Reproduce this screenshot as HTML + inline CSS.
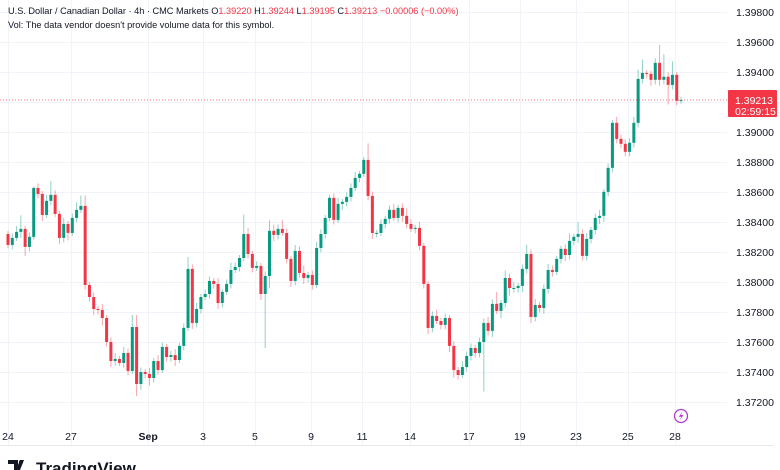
<!DOCTYPE html>
<html><head><meta charset="utf-8"><style>
html,body{margin:0;padding:0;background:#fff;width:780px;height:470px;overflow:hidden;font-family:"Liberation Sans",sans-serif}
svg text{font-family:"Liberation Sans",sans-serif}
</style></head><body>
<svg id="chart" width="780" height="470" viewBox="0 0 780 470" xmlns="http://www.w3.org/2000/svg">
<g id="grid"></g>
<g id="candles"></g>
<g id="yaxis"></g>
<g id="xaxis"></g>
<line x1="0" y1="445.5" x2="773" y2="445.5" stroke="#e6e8ee" stroke-width="1"/>
<text x="8" y="14" font-size="9.2" fill="#131722">U.S. Dollar / Canadian Dollar · 4h · CMC Markets  O<tspan fill="#f23645">1.39220</tspan>  H<tspan fill="#f23645">1.39244</tspan>  L<tspan fill="#f23645">1.39195</tspan>  C<tspan fill="#f23645">1.39213</tspan>  <tspan fill="#f23645">−0.00006 (−0.00%)</tspan></text>
<text x="8" y="28" font-size="9.2" fill="#131722">Vol: The data vendor doesn't provide volume data for this symbol.</text>
<g><circle cx="681" cy="416" r="6.5" fill="#fff" stroke="#b23bd6" stroke-width="1.3"/><path d="M682.5 411.5 L678.8 416.8 L681.3 416.8 L679.8 420.5 L683.4 415 L680.9 415 Z" fill="#b23bd6"/></g>
<g><path d="M8 460 h10 v10 h-4 v-6 h-6z M20 460 h4 l-4 10 h-4z" fill="#131722"/><circle cx="21" cy="462" r="2" fill="#131722"/><text x="36" y="474" font-size="17" font-weight="bold" fill="#131722">TradingView</text></g>
</svg>
<script>
const closes=[1.38247,1.38294,1.38334,1.38354,1.38234,1.38301,1.38627,1.38587,1.38447,1.38541,
1.38581,1.38454,1.38294,1.38387,1.38327,1.38427,1.38481,1.38507,1.37980,1.37900,
1.37820,1.37814,1.37760,1.37600,1.37473,1.37487,1.37460,1.37527,1.37407,1.37700,
1.37320,1.37400,1.37387,1.37360,1.37473,1.37413,1.37567,1.37500,1.37513,1.37480,
1.37574,1.37694,1.38087,1.37727,1.37820,1.37900,1.37920,1.38007,1.37987,1.37860,
1.37934,1.37987,1.38080,1.38100,1.38160,1.38320,1.38187,1.38094,1.38107,1.37920,
1.38040,1.38341,1.38314,1.38354,1.38327,1.38154,1.38007,1.38207,1.38060,1.38027,
1.38047,1.37980,1.38227,1.38320,1.38427,1.38561,1.38414,1.38521,1.38534,1.38567,
1.38627,1.38694,1.38721,1.38814,1.38574,1.38327,1.38327,1.38387,1.38421,1.38481,
1.38427,1.38494,1.38441,1.38387,1.38354,1.38361,1.38241,1.37987,1.37694,1.37774,
1.37740,1.37714,1.37760,1.37574,1.37413,1.37380,1.37433,1.37507,1.37560,1.37527,
1.37600,1.37727,1.37674,1.37854,1.37807,1.37860,1.38027,1.37960,1.37960,1.37974,
1.38087,1.38187,1.37767,1.37847,1.37827,1.37954,1.38080,1.38067,1.38154,1.38221,
1.38180,1.38274,1.38301,1.38320,1.38174,1.38287,1.38347,1.38427,1.38441,1.38601,
1.38761,1.39061,1.38954,1.38921,1.38868,1.38928,1.39061,1.39354,1.39394,1.39388,
1.39348,1.39461,1.39348,1.39368,1.39314,1.39381,1.39208,1.39213];
const firstOpen=1.38320;
const upperWickPips=[2,3,4,9,2,3,1,3,2,4,9,3,2,4,2,3,5,7,7,2,
3,2,4,2,3,4,2,4,3,8,8,3,2,4,2,4,3,2,3,4,
2,3,8,3,4,2,3,3,2,4,2,3,5,3,2,13,4,2,3,2,
3,7,4,3,6,3,2,4,3,5,2,3,4,3,2,2,3,4,2,3,
3,4,2,2,11,3,2,3,2,3,4,2,3,5,3,2,4,2,2,3,
4,2,3,2,3,2,4,3,3,2,3,3,4,3,8,2,5,3,4,2,
3,6,3,4,2,3,4,3,2,2,3,5,2,8,3,4,2,3,4,2,
3,2,4,3,3,3,4,6,9,2,2,3,12,15,3,9,2,2];
const lowerWickPips=[2,3,2,4,6,3,2,3,4,2,3,2,4,3,5,2,3,2,3,3,
4,3,5,3,4,3,2,3,3,2,8,4,3,5,3,3,2,3,3,4,
2,3,2,4,3,3,2,3,3,4,3,2,3,2,3,2,3,3,2,4,
36,8,4,3,2,3,4,3,3,4,3,3,2,3,3,2,3,2,4,3,
3,2,3,2,3,4,3,2,3,3,2,3,4,3,2,3,3,3,4,3,
2,3,3,4,5,3,2,3,3,3,3,33,3,4,2,5,3,5,3,3,
4,3,4,3,3,4,3,3,2,3,4,3,3,4,3,3,3,3,4,4,
3,3,3,3,3,3,3,3,3,3,4,3,4,3,13,3,3,2];
const priceTicks=[1.398,1.396,1.394,1.390,1.388,1.386,1.384,1.382,1.380,1.378,1.376,1.374,1.372];
const gridTicks=[1.398,1.396,1.394,1.392,1.390,1.388,1.386,1.384,1.382,1.380,1.378,1.376,1.374,1.372];
const dateLabels=["24","27","Sep","3","5","9","11","14","17","19","23","25","28"];
const dateCandleIndex=[0,14.7,32.7,45.5,57.6,70.7,82.6,93.8,107.5,119.4,132.5,144.6,155.6];
const lastPrice=1.39213;
const countdown="02:59:15";

const NS="http://www.w3.org/2000/svg";
const X0=8,X1=681;
const step=(X1-X0)/(closes.length-1);
function xOf(i){return X0+i*step;}
function yOf(p){return 12+(1.398-p)*15000;}
function mk(tag,attrs,parent){const e=document.createElementNS(NS,tag);for(const k in attrs)e.setAttribute(k,attrs[k]);parent.appendChild(e);return e;}

const grid=document.getElementById('grid');
gridTicks.forEach(p=>{
  const l=mk('line',{x1:0,x2:727,y1:Math.round(yOf(p))+0.5,y2:Math.round(yOf(p))+0.5,stroke:'#f0f3fa'},grid);
  
  
});
dateCandleIndex.forEach(i=>{
  const x=Math.round(xOf(i))+0.5;
  const l=mk('line',{x1:x,x2:x,y1:0,y2:445,stroke:'#f0f3fa'},grid);
  
  
});

const cg=document.getElementById('candles');
let prev=firstOpen;
closes.forEach((c,i)=>{
  const o=prev;prev=c;
  const up=c>=o;
  const col=up?'#089981':'#f23645';
  const hi=Math.max(o,c)+upperWickPips[i]*0.0001;
  const lo=Math.min(o,c)-lowerWickPips[i]*0.0001;
  const x=xOf(i);
  const w=mk('line',{x1:x,x2:x,y1:yOf(hi),y2:yOf(lo),stroke:col,'stroke-opacity':0.45,'stroke-width':1},cg);
  
  
  const yt=yOf(Math.max(o,c)),yb=yOf(Math.min(o,c));
  const b=mk('rect',{x:x-1.5,y:yt,width:3,height:Math.max(1,yb-yt),fill:col},cg);
  
  
});

const ya=document.getElementById('yaxis');
priceTicks.forEach(p=>{
  const t=mk('text',{x:736,y:yOf(p)+4,'font-size':'10.5',fill:'#131722'},ya);
  t.textContent=p.toFixed(5);
  
  
});
const ly=yOf(lastPrice);
const pl=mk('line',{x1:0,x2:727,y1:ly,y2:ly,stroke:'#f23645','stroke-width':1,'stroke-dasharray':'1 2','stroke-opacity':0.7},ya);


const pb=mk('rect',{x:728,y:ly-10,width:49,height:27,fill:'#f23645',rx:1},ya);


const pt=mk('text',{x:735,y:ly+4,'font-size':'10.5',fill:'#fff'},ya);
pt.textContent=lastPrice.toFixed(5);


const ct=mk('text',{x:735,y:ly+15,'font-size':'10.5',fill:'#fff'},ya);
ct.textContent=countdown;



const xa=document.getElementById('xaxis');
dateLabels.forEach((d,k)=>{
  const t=mk('text',{x:xOf(dateCandleIndex[k]),y:440,'font-size':'10.5',fill:'#131722','text-anchor':'middle','font-weight':d==='Sep'?'bold':'normal'},xa);
  t.textContent=d;
  
  
});
</script>
</body></html>
